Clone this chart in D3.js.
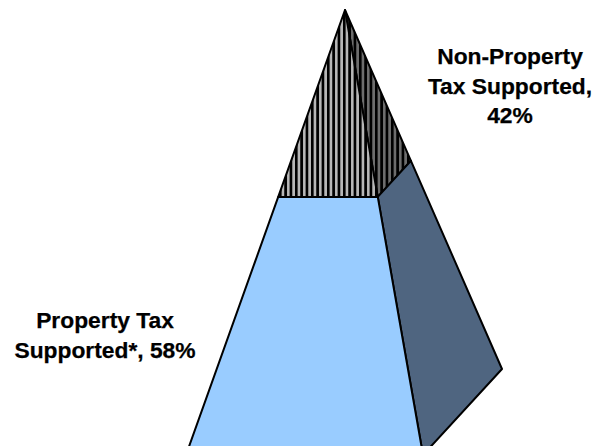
<!DOCTYPE html>
<html>
<head>
<meta charset="utf-8">
<script src="https://cdn.jsdelivr.net/npm/d3@7"></script>
<style>
html,body{margin:0;padding:0;background:#fff;overflow:hidden}
text{font-family:"Liberation Sans",Arial,sans-serif;font-weight:bold;font-size:22.8px;fill:#000;stroke:#000;stroke-width:0.25px}
</style>
</head>
<body>
<div id="chart"></div>
<script>
// pyramid slices, top to bottom
const categories = ['Non-Property Tax Supported','Property Tax Supported*']
const shares = [42,58]
const labelLines = [['Non-Property','Tax Supported,','42%'],['Property Tax','Supported*, 58%']]

const width = 603
const height = 446

const svg = d3.select('#chart').append('svg')
	.attr('width',width)
	.attr('height',height)

const defs = svg.append('defs')
function stripes(id,bg,bar){
	const w = 16/3
	const p = defs.append('pattern')
		.attr('id',id)
		.attr('patternUnits','userSpaceOnUse')
		.attr('patternTransform','translate(1.6,0)')
		.attr('width',w)
		.attr('height',5)
	p.append('rect').attr('width',w).attr('height',5).attr('fill',bg)
	p.append('rect').attr('width',2.7).attr('height',5).attr('fill',bar)
}
stripes('stripeFront','#b8b8b8','#000')
stripes('stripeSide','#6e6e6e','#000')

// the value axis runs from apex to base, the corners of the 3d view are fixed
const t = d3.scaleLinear().domain([0,d3.sum(shares)]).range([0,1])
const apex = [345,10]
const baseLeft = [186,455]
const baseMid = [423,455]
const baseRight = [502,369]
const along = function(c,v){
	return [d3.interpolateNumber(apex[0],c[0])(t(v)),d3.interpolateNumber(apex[1],c[1])(t(v))]
}
const line = d3.line()
const cum = d3.cumsum(shares)

const fills = [['url(#stripeFront)','url(#stripeSide)'],['#99ccff','#4f6580']]

shares.forEach(function(d,i){
	const a = i === 0 ? 0 : cum[i-1]
	const b = cum[i]
	const front = [along(baseLeft,a),along(baseMid,a),along(baseMid,b),along(baseLeft,b)]
	const side = [along(baseMid,a),along(baseRight,a),along(baseRight,b),along(baseMid,b)]
	svg.append('path')
		.attr('d',line(side)+'Z')
		.attr('fill',fills[i][1])
		.attr('stroke','#000')
		.attr('stroke-width',2)
		.attr('stroke-linejoin','round')
	svg.append('path')
		.attr('d',line(front)+'Z')
		.attr('fill',fills[i][0])
		.attr('stroke','#000')
		.attr('stroke-width',2)
		.attr('stroke-linejoin','round')
})

// data labels
const labelPos = [[510,64],[105,328]]
const labelStep = [29.7,29.5]
categories.forEach(function(c,i){
	svg.append('text')
		.attr('text-anchor','middle')
		.selectAll('tspan')
		.data(labelLines[i])
		.join('tspan')
		.attr('x',labelPos[i][0])
		.attr('y',function(d,j){return labelPos[i][1]+j*labelStep[i]})
		.text(function(d){return d})
})
</script>
</body>
</html>
